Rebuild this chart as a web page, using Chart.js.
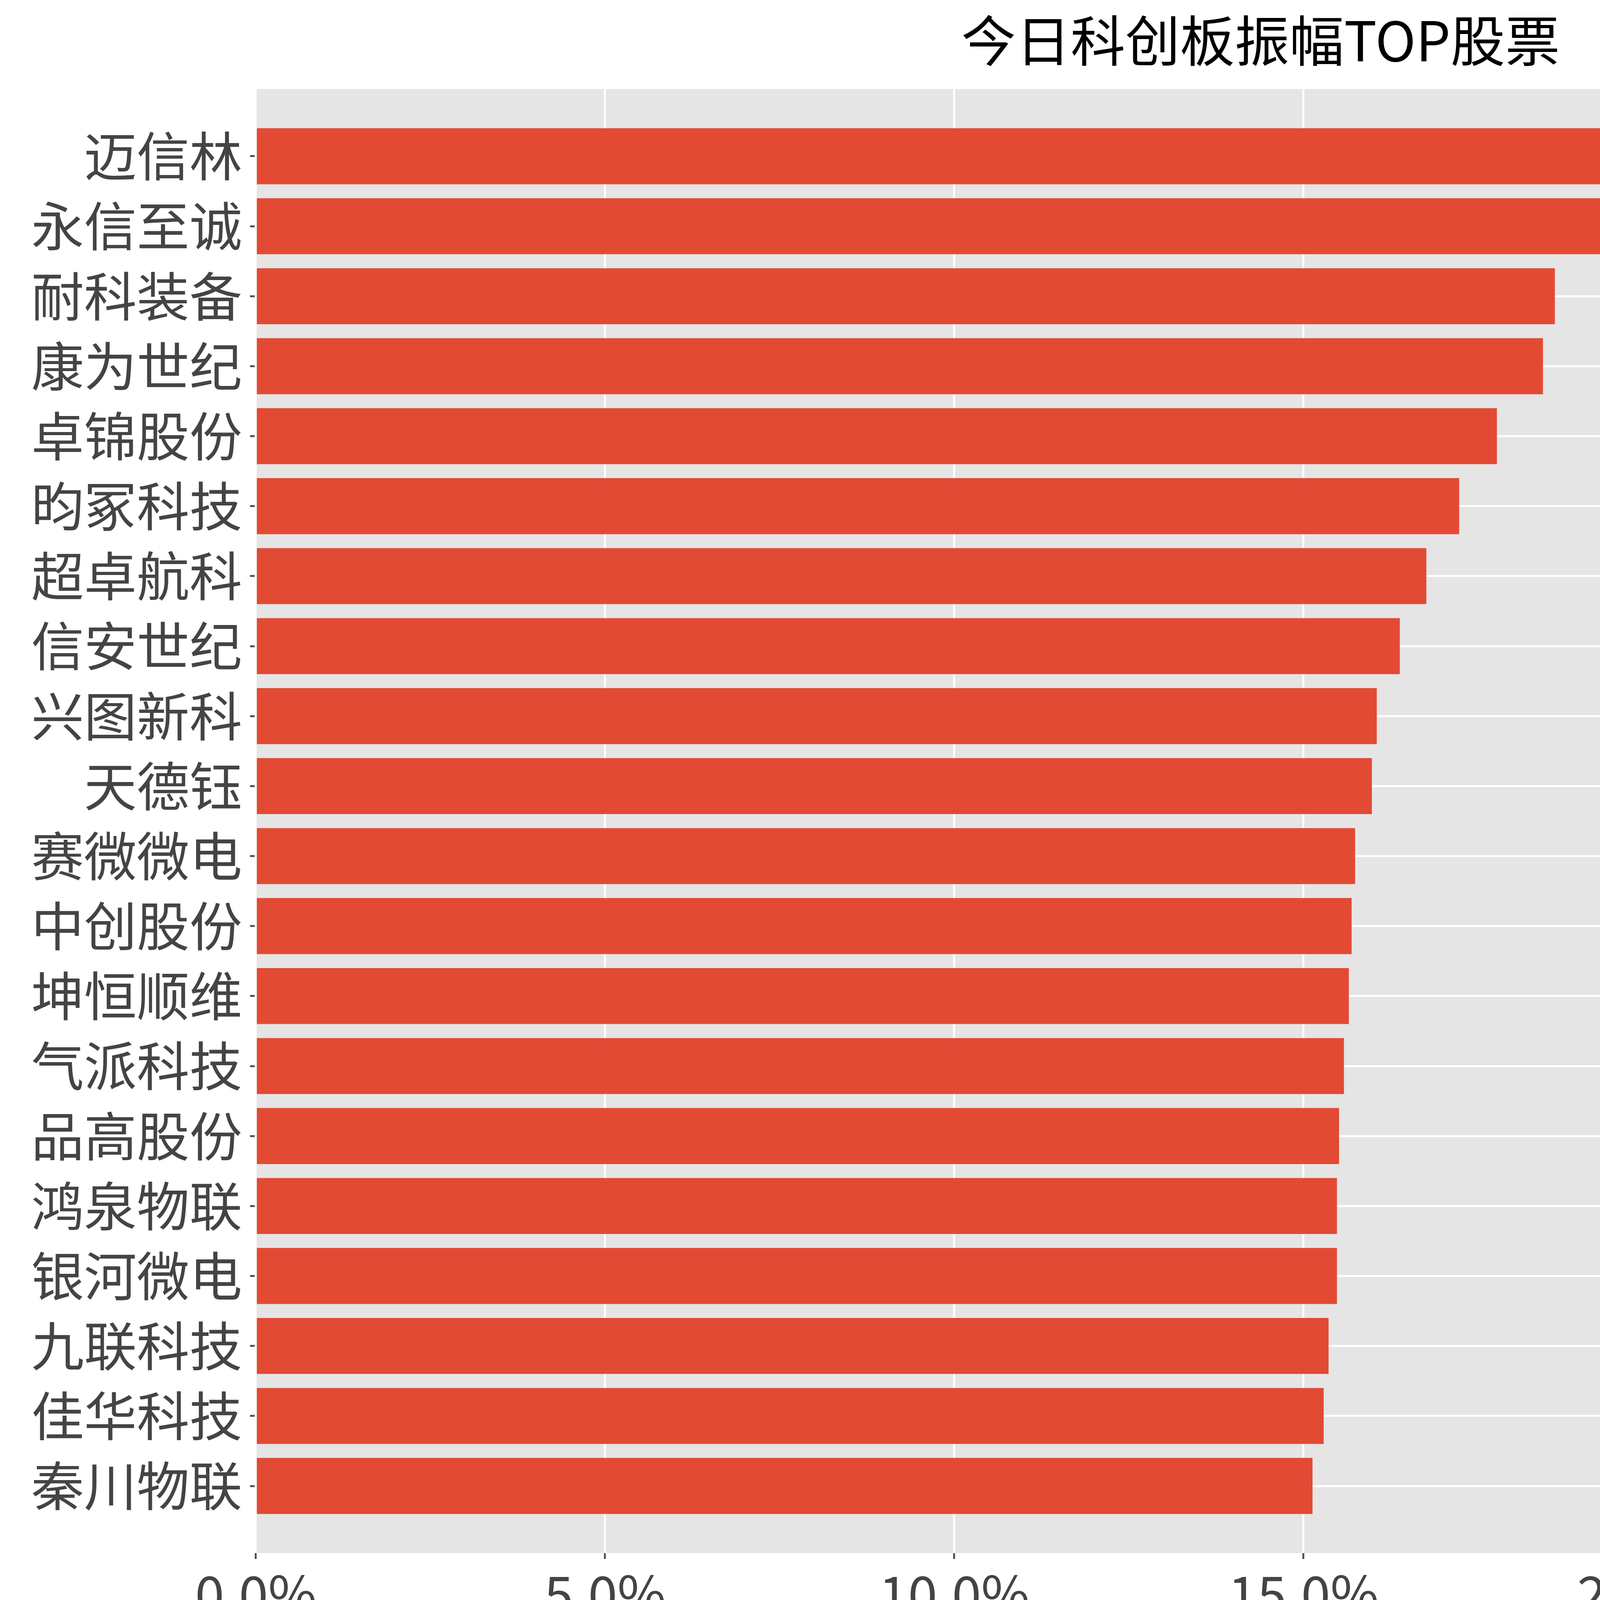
<!DOCTYPE html>
<html><head><meta charset="utf-8">
<script src="https://cdn.jsdelivr.net/npm/chart.js@4"></script>
<style>html,body{margin:0;padding:0;background:#fff;overflow:hidden}canvas{display:block;width:6424px;height:4319px}</style>
</head><body><canvas id="c" width="6424" height="4319"></canvas>
<script>
const categories = ["迈信林","永信至诚","耐科装备","康为世纪","卓锦股份","昀冢科技","超卓航科","信安世纪","兴图新科","天德钰","赛微微电","中创股份","坤恒顺维","气派科技","品高股份","鸿泉物联","银河微电","九联科技","佳华科技","秦川物联"];
const amplitude = [30.59,21.31,18.60,18.43,17.77,17.23,16.76,16.38,16.05,15.98,15.74,15.69,15.65,15.58,15.51,15.48,15.48,15.36,15.29,15.13];
const xTicks = [0,5,10,15,20,25,30];
const F = '"Noto Sans CJK SC", sans-serif';
new Chart(document.getElementById('c'), {
  type: 'bar',
  data: { datasets: [{ data: amplitude.map((v,i)=>({x:v,y:i})), backgroundColor:'#E24A33', barPercentage:0.8, categoryPercentage:1 }] },
  options: {
    indexAxis:'y', responsive:false, animation:false, devicePixelRatio:1,
    layout:{padding:{left:60,right:30,top:0,bottom:40}},
    plugins:{ legend:{display:false}, tooltip:{enabled:false},
      title:{display:true,text:'今日科创板振幅TOP股票',color:'#000',font:{family:F,size:140,weight:'normal'},padding:{top:20,bottom:40}} },
    scales:{
      y:{ type:'linear', reverse:true, min:-0.96, max:19.96, offset:false,
        afterBuildTicks:(ax)=>{ax.ticks=categories.map((c,i)=>({value:i}));},
        ticks:{ callback:(v)=>categories[v], color:'#444', font:{family:F,size:135}, padding:20, autoSkip:false },
        grid:{offset:false,color:'#fff',lineWidth:5,drawTicks:true,tickLength:15,tickColor:'#555'}, border:{display:false} },
      x:{ type:'linear', min:0, max:32.1,
        afterBuildTicks:(ax)=>{ax.ticks=xTicks.map(v=>({value:v}));},
        ticks:{ callback:(v)=>v.toFixed(1)+'%', color:'#444', font:{family:F,size:135}, padding:10 },
        grid:{color:'#fff',lineWidth:5,tickLength:15,tickColor:'#555'}, border:{display:false},
        title:{display:true,text:'今日振幅',color:'#444',font:{family:F,size:85},padding:{top:0}} }
    }
  },
  plugins:[{id:'bg',beforeDraw(ch){const a=ch.chartArea,x=ch.ctx;x.save();x.fillStyle='#E5E5E5';x.fillRect(a.left,a.top,a.right-a.left,a.bottom-a.top);x.restore();}}]
});
</script></body></html>
